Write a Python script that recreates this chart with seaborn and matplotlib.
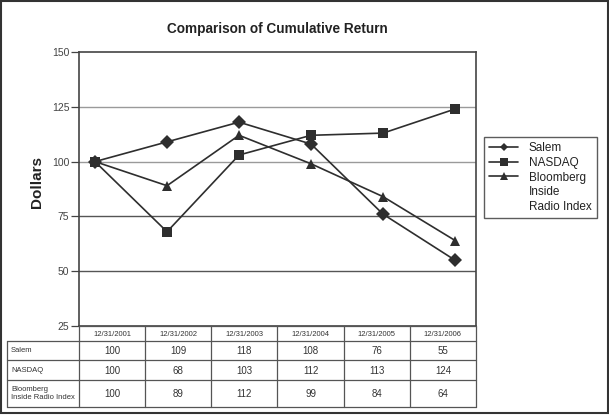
import matplotlib
matplotlib.use("Agg")
import matplotlib.pyplot as plt
from matplotlib.patches import Rectangle
from matplotlib.lines import Line2D
import seaborn as sns
import pandas as pd

dates = ["12/31/2001", "12/31/2002", "12/31/2003", "12/31/2004", "12/31/2005", "12/31/2006"]
series_names = ["Salem", "NASDAQ", "Bloomberg Inside Radio Index"]
legend_labels = ["Salem", "NASDAQ", "Bloomberg", "Inside", "Radio Index"]
table_labels = ["Salem", "NASDAQ", "Bloomberg\nInside Radio Index"]
salem = [100, 109, 118, 108, 76, 55]
nasdaq = [100, 68, 103, 112, 113, 124]
bloomberg = [100, 89, 112, 99, 84, 64]
yticks = [25, 50, 75, 100, 125, 150]

values = [salem, nasdaq, bloomberg]
rows = []
for name, vals in zip(series_names, values):
    for i, v in enumerate(vals):
        rows.append({"idx": i, "value": v, "series": name})
df = pd.DataFrame(rows)

sns.set_theme(style="white")
plt.rcParams["font.family"] = ["Liberation Sans", "DejaVu Sans"]

W, H = 609, 415
fig = plt.figure(figsize=(W / 100, H / 100), dpi=100)

def fbox(x0, y0, x1, y1):
    return [x0 / W, 1 - y1 / H, (x1 - x0) / W, (y1 - y0) / H]

ax = fig.add_axes(fbox(79, 52, 476, 326))
dark = "#2e2e2e"
marker_map = {"Salem": "D", "NASDAQ": "s", "Bloomberg Inside Radio Index": "^"}
sns.lineplot(data=df, x="idx", y="value", hue="series", style="series",
             palette={n: dark for n in series_names},
             markers=marker_map,
             dashes=False, markersize=7.5, linewidth=1.2, markeredgewidth=0,
             ax=ax, legend=False)
ax.set_xlim(-0.222, 5.29)
ax.set_ylim(25, 150)
ax.set_yticks(yticks)
ax.set_yticklabels([str(t) for t in yticks], fontsize=7.5, color="#444444")
ax.set_xticks([])
ax.set_xlabel("")
ax.set_ylabel("Dollars", fontsize=11, fontweight="bold", color="#222222")
ax.yaxis.set_label_coords(-0.088, 0.526)
ax.tick_params(axis="y", left=True, length=6, width=0.9, color="#444444", pad=1)
grid_colors = {50: "#555555", 75: "#555555", 100: "#9a9a9a", 125: "#9a9a9a"}
for t, c in grid_colors.items():
    ax.axhline(t, color=c, lw=1.0, zorder=0)
for s in ax.spines.values():
    s.set_color("#444444")
    s.set_linewidth(1.2)
ax.set_title("Comparison of Cumulative Return", fontsize=9.8, fontweight="bold",
             color="#222222", pad=14)

leg_sizes = {"Salem": 4.5, "NASDAQ": 5.5, "Bloomberg Inside Radio Index": 5.5}
handles = [Line2D([], [], color=dark, lw=1.2, marker=marker_map[n],
                  markersize=leg_sizes[n], markeredgewidth=0) for n in series_names]
handles += [Line2D([], [], linestyle="none"), Line2D([], [], linestyle="none")]
leg = fig.legend(handles, legend_labels, loc="upper left",
                 bbox_to_anchor=(484 / W, 1 - 137 / H), borderaxespad=0,
                 fancybox=False, frameon=True, fontsize=8.5, handlelength=2.45,
                 labelspacing=0.22, borderpad=0.45, handletextpad=0.9)
leg.get_frame().set_edgecolor("#333333")
leg.get_frame().set_linewidth(1.0)
for t in leg.get_texts():
    t.set_color("#222222")

# table
tx0, tx1, ty0, ty1 = 7, 476, 326, 407
tab = fig.add_axes(fbox(tx0, ty0, tx1, ty1))
tab.set_xlim(tx0, tx1)
tab.set_ylim(ty1, ty0)
tab.axis("off")
lab_w = 79
ncol = len(dates)
cw = (tx1 - lab_w) / ncol
row_edges = [326, 341, 360, 380, 407]
lc = "#555555"
lw = 0.9
tab.plot([lab_w, tx1], [row_edges[0]] * 2, color=lc, lw=lw, clip_on=False)
for y in row_edges[1:]:
    tab.plot([tx0, tx1], [y, y], color=lc, lw=lw, clip_on=False)
tab.plot([tx0, tx0], [row_edges[1], row_edges[-1]], color=lc, lw=lw, clip_on=False)
for j in range(ncol + 1):
    x = lab_w + j * cw
    tab.plot([x, x], [row_edges[0], row_edges[-1]], color=lc, lw=lw, clip_on=False)
for j, d in enumerate(dates):
    tab.text(lab_w + (j + 0.5) * cw, (row_edges[0] + row_edges[1]) / 2 + 0.5, d,
             ha="center", va="center", fontsize=5.5, color="#333333")
for i, (lab, vals) in enumerate(zip(table_labels, values)):
    yc = (row_edges[i + 1] + row_edges[i + 2]) / 2
    tab.text(tx0 + 4, yc, lab, ha="left", va="center", fontsize=5.5,
             color="#333333", linespacing=1.3)
    for j, v in enumerate(vals):
        tab.text(lab_w + (j + 0.5) * cw, yc + 0.5, str(v), ha="center", va="center",
                 fontsize=7, color="#333333")

fig.patches.append(Rectangle((1 / W, 2 / H), (W - 2.5) / W, (H - 3) / H,
                             transform=fig.transFigure, fill=False,
                             edgecolor="#333333", lw=1.5))

fig.savefig("out.png", dpi=100)
